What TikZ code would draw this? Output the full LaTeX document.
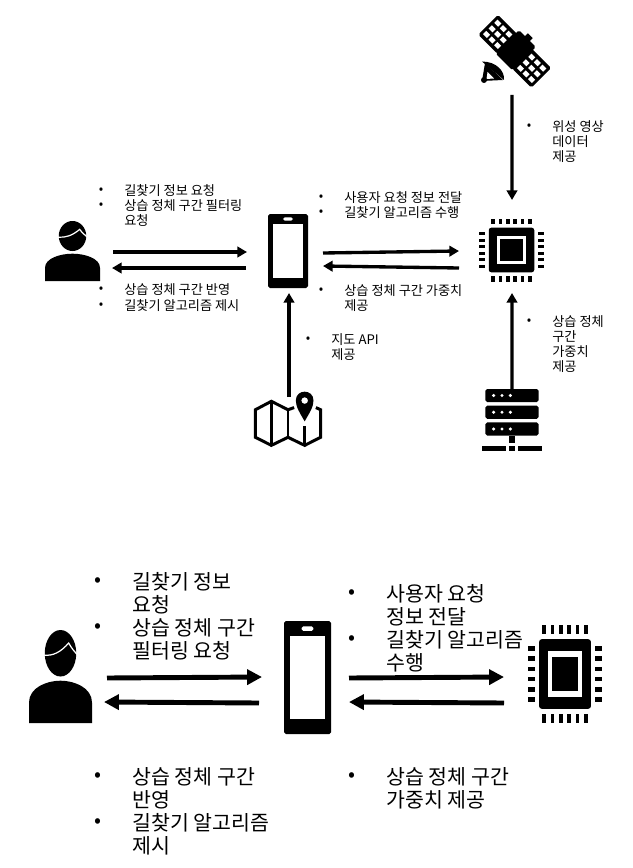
\documentclass[tikz,border=0pt]{standalone}
\usepackage{fontspec}
\setmainfont{Noto Sans CJK KR}
\usetikzlibrary{arrows.meta}
\tikzstyle{iconbox}=[rectangle,inner sep=0pt,outer sep=0pt]
\tikzstyle{smalltext}=[anchor=north west,inner sep=0pt,align=left,font=\fontsize{7.5}{8.5}\selectfont]
\tikzstyle{bigtext}=[anchor=north west,inner sep=0pt,align=left,font=\fontsize{11.7}{13}\selectfont]
\tikzstyle{thinarrow}=[line width=1.9pt,-{Triangle[length=5.5pt,width=6pt]}]
\tikzstyle{fatarrow}=[line width=2.8pt,-{Triangle[length=8.5pt,width=8.5pt]}]
\newcommand\Person[5]{
  \node[iconbox,minimum width=#4*0.02cm,minimum height=#5*0.02cm] (#1) at (#2,#3) {};
  \begin{scope}[shift={(#2,#3)},xscale=#4/100,yscale=#5/100]
    \fill (0,-25) ellipse [x radius=25,y radius=25];
    \fill (-50,50) -- (-50,28) .. controls (-50,12) and (-22,4.5) .. (0,4.5) .. controls (22,4.5) and (50,12) .. (50,28) -- (50,50) -- cycle;
    \draw[white,line width=0.7pt] (-26,-23) .. controls (-12,-22) and (0,-26) .. (13,-36) .. controls (18,-30) and (22,-27) .. (26,-24);
  \end{scope}
}
\newcommand\Phone[5]{
  \node[iconbox,minimum width=#4*0.02cm,minimum height=#5*0.02cm] (#1) at (#2,#3) {};
  \begin{scope}[shift={(#2,#3)},xscale=#4/100,yscale=#5/100]
    \fill[rounded corners=1pt] (-50,-50) rectangle (50,50);
    \fill[white] (-38,-36.5) rectangle (38,36.5);
    \fill[white,rounded corners=1pt] (-12.6,-45.3) rectangle (12.6,-41.2);
  \end{scope}
}
\newcommand\Chip[5]{
  \node[iconbox,minimum width=#4*0.02cm,minimum height=#5*0.02cm] (#1) at (#2,#3) {};
  \begin{scope}[shift={(#2,#3)},xscale=#4/100,yscale=#5/100]
    \fill[rounded corners=1.5pt] (-35,-35.5) rectangle (35,35.5);
    \fill[white] (-22.7,-23) rectangle (22.7,23);
    \fill (-17,-17.8) rectangle (17,17.8);
    \foreach \pin in {-28.25,-16.95,-5.65,5.65,16.95,28.25} {
      \fill (\pin-2.6,-50) rectangle (\pin+2.6,-41);
      \fill (\pin-2.6,41) rectangle (\pin+2.6,50);
    }
    \foreach \pin in {-26.25,-15.75,-5.25,5.25,15.75,26.25} {
      \fill (-50,\pin-2.3) rectangle (-40.5,\pin+2.3);
      \fill (40.5,\pin-2.3) rectangle (50,\pin+2.3);
    }
  \end{scope}
}
\newcommand\Server[5]{
  \node[iconbox,minimum width=#4*0.02cm,minimum height=#5*0.02cm] (#1) at (#2,#3) {};
  \begin{scope}[shift={(#2,#3)},xscale=#4/100,yscale=#5/100]
    \foreach \rack in {-50,-23,4} {
      \fill[rounded corners=1pt] (-44.4,\rack) rectangle (44.4,\rack+21);
      \foreach \dot in {-30.6,-16.7,-2.8}
        \fill[white] (\dot,\rack+10.5) ellipse [x radius=2.8,y radius=2.8];
    }
    \fill (-4.4,25) rectangle (4.4,37.6);
    \fill (-50,41.9) rectangle (-10,50);
    \fill (-4.4,41.9) rectangle (4.4,50);
    \fill (10,41.9) rectangle (50,50);
  \end{scope}
}
\newcommand\Mapicon[5]{
  \node[iconbox,minimum width=#4*0.02cm,minimum height=#5*0.02cm] (#1) at (#2,#3) {};
  \begin{scope}[shift={(#2,#3)},xscale=#4/100,yscale=#5/100]
    \draw[line width=1.7pt] (9,-23) -- (0,-19) -- (-24.5,-34.6) -- (-48,-19) -- (-48,32) -- (-24.5,47) -- (0,32) -- (24.5,47) -- (48,32) -- (48,-19) -- (41,-23);
    \draw[line width=1.7pt] (-24.5,-34.6) -- (-24.5,47) (0,-19) -- (0,32) (24.5,12) -- (24.5,47);
    \fill[even odd rule] (24.5,2.5) .. controls (18,-12) and (11.5,-24) .. (11.5,-36) .. controls (11.5,-58) and (37.5,-58) .. (37.5,-36) .. controls (37.5,-24) and (31,-12) .. (24.5,2.5) -- cycle (24.5,-36) ellipse [x radius=5,y radius=6.2];
  \end{scope}
}
\newcommand\Satellite[3]{
  \node[iconbox,minimum width=68*0.02cm,minimum height=74*0.02cm] (#1) at (#2,#3) {};
  \begin{scope}[shift={(#2,#3)}]
    \begin{scope}[shift={(0.7,-3.7)},rotate=-45]
      \fill[rounded corners=1pt] (-12,-18) rectangle (12,15);
      \fill (-3.5,-22) rectangle (3.5,-17);
      \foreach \side in {-1,1} {
        \fill[rounded corners=1pt] (\side*24-13.5,-14) rectangle (\side*24+13.5,14);
        \foreach \col in {-7.8,0,7.8}
          \foreach \row in {-8,0,8}
            \fill[white] (\side*24+\col-2.7,\row-2.3) rectangle (\side*24+\col+2.7,\row+2.3);
      }
    \end{scope}
    \fill (-32,6.5) .. controls (-18,6.5) and (-9,16) .. (-10,25) -- cycle;
    \fill (-29,8) -- (-32,26) -- (-11,25) -- cycle;
    \fill[white] (-26.5,17) -- (-27.5,24) -- (-20,23.5) -- cycle;
    \fill (-30,25) circle (3);
  \end{scope}
}
\newcommand\Smallitem[4]{
  \node[smalltext] (#1dot) at (#2-25.5,#3-2.5) {•};
  \node[smalltext] (#1) at (#2,#3-5.5) {#4};
}
\newcommand\Bigitem[4]{
  \node[bigtext] (#1dot) at (#2-38,#3-5) {•};
  \node[bigtext] (#1) at (#2,#3-10) {#4};
}

\begin{document}
\begin{tikzpicture}[x=0.02cm,y=-0.02cm]
  \useasboundingbox (0,0) rectangle (632,868);
  \Satellite{sat}{514}{55}
  \Person{user}{72.5}{251}{55}{60}
  \Phone{phone}{288}{251}{40}{74}
  \Chip{chip}{511.5}{250}{65}{63}
  \Mapicon{map}{288}{420}{68}{54}
  \Server{server}{512}{420}{60}{62}
  \draw[thinarrow] ([shift={(13,1)}] user.east) -- ([shift={(-21,1)}] phone.west);
  \draw[thinarrow] ([shift={(-22,17)}] phone.west) -- ([shift={(12,17)}] user.east);
  \draw[thinarrow] ([shift={(15,2)}] phone.east) -- ([shift={(-20,1)}] chip.west);
  \draw[thinarrow] ([shift={(-20,18)}] chip.west) -- ([shift={(15,15)}] phone.east);
  \draw[thinarrow] ([shift={(1,4)}] map.north) -- ([shift={(1,5)}] phone.south);
  \draw[thinarrow] ([shift={(-2,3)}] sat.south) -- ([shift={(0.5,-18.5)}] chip.north);
  \draw[thinarrow] (server.north) -- ([shift={(0.5,11.5)}] chip.south);
  \Smallitem{reqa}{124}{190}{길찾기 정보 요청}
  \Smallitem{reqb}{124}{205}{상습 정체 구간 필터링\\요청}
  \Smallitem{resa}{124}{289}{상습 정체 구간 반영}
  \Smallitem{resb}{124}{305}{길찾기 알고리즘 제시}
  \Smallitem{senda}{344}{197}{사용자 요청 정보 전달}
  \Smallitem{sendb}{344}{212}{길찾기 알고리즘 수행}
  \Smallitem{weight}{344}{290}{상습 정체 구간 가중치\\제공}
  \Smallitem{mapapi}{331}{339}{지도 API\\제공}
  \Smallitem{satdata}{552}{126}{위성 영상\\데이터\\제공}
  \Smallitem{serverdata}{552}{321}{상습 정체\\구간\\가중치\\제공}
  \Person{userb}{60.5}{676.5}{63}{93}
  \Phone{phoneb}{307.5}{677.5}{47}{113}
  \Chip{chipb}{565}{674}{74}{98}
  \draw[fatarrow] ([shift={(15,1.5)}] userb.east) -- ([shift={(-22,-0.5)}] phoneb.west);
  \draw[fatarrow] ([shift={(-25,25.5)}] phoneb.west) -- ([shift={(12,25.5)}] userb.east);
  \draw[fatarrow] ([shift={(18,0.5)}] phoneb.east) -- ([shift={(-24,3)}] chipb.west);
  \draw[fatarrow] ([shift={(-24,29)}] chipb.west) -- ([shift={(18,24.5)}] phoneb.east);
  \Bigitem{breqa}{132}{582}{길찾기 정보\\요청}
  \Bigitem{breqb}{132}{628}{상습 정체 구간\\필터링 요청}
  \Bigitem{bresa}{132}{777}{상습 정체 구간\\반영}
  \Bigitem{bresb}{132}{823}{길찾기 알고리즘\\제시}
  \Bigitem{bsenda}{386}{594}{사용자 요청\\정보 전달}
  \Bigitem{bsendb}{386}{640}{길찾기 알고리즘\\수행}
  \Bigitem{bweight}{386}{777}{상습 정체 구간\\가중치 제공}
\end{tikzpicture}
\end{document}
